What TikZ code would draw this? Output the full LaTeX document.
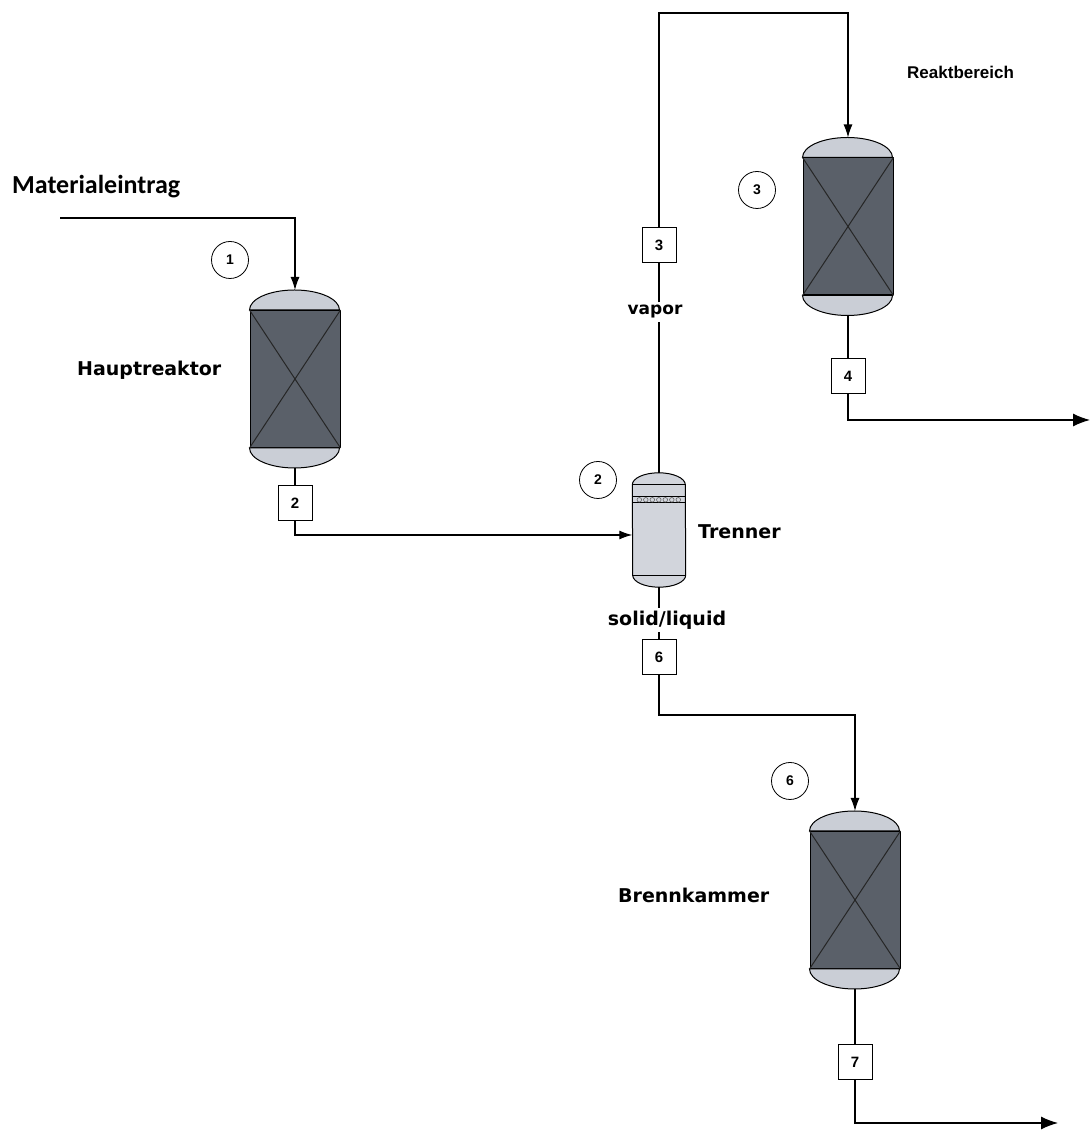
\documentclass[tikz,border=0pt]{standalone}
\usepackage{fontspec}
\setmainfont{DejaVu Sans}
\newfontfamily\calibri{Carlito}
\newfontfamily\arial{Liberation Sans}
\usetikzlibrary{arrows.meta}

\definecolor{bett}{HTML}{5A6069}
\definecolor{kappe}{HTML}{CACED6}
\definecolor{hell}{HTML}{D2D5DC}

\tikzstyle{gefaess}=[draw, fill=bett, line width=1pt, minimum width=90pt, minimum height=137pt, inner sep=0pt]
\tikzstyle{kappe}=[draw, fill=kappe, line width=1pt]
\tikzstyle{strom}=[draw, fill=white, line width=1pt, minimum width=34pt, minimum height=35pt, inner sep=0pt, font=\arial\bfseries\fontsize{15}{17}\selectfont]
\tikzstyle{kreis}=[draw, circle, line width=0.8pt, minimum size=37pt, inner sep=0pt, font=\arial\bfseries\fontsize{14}{16}\selectfont]
\tikzstyle{titel}=[anchor=west, inner sep=0pt, font=\bfseries\fontsize{19}{22}\selectfont]
\tikzstyle{pfeil}=[line width=1.2pt, -{Latex[length=13pt,width=9pt]}]
\tikzstyle{pfeilgross}=[line width=1.2pt, -{Latex[length=17pt,width=13pt]}]
\tikzstyle{leitung}=[line width=1.2pt]

% Reaktor mit Kappen und Schuettung: Name, Mitte
\newcommand{\reaktor}[2]{%
  \node[gefaess] (#1) at #2 {};
  \draw[kappe] (#1.north west) arc[start angle=180, end angle=0, x radius=45pt, y radius=20pt] -- cycle;
  \draw[kappe] (#1.south west) arc[start angle=180, end angle=360, x radius=45pt, y radius=20pt] -- cycle;
  \draw[line width=1pt, black!85] (#1.north west) -- (#1.south east) (#1.south west) -- (#1.north east);
  \coordinate (#1-ein) at ([yshift=20pt]#1.north);
  \coordinate (#1-aus) at ([yshift=-20pt]#1.south);
}

\begin{document}
\begin{tikzpicture}[x=1pt, y=1pt]
  \useasboundingbox (0,0) rectangle (1090,1130);

  % Apparate
  \reaktor{r1}{(295,751)}
  \reaktor{r3}{(848,903.5)}
  \reaktor{r6}{(855,230)}

  \node[minimum width=53pt, minimum height=114pt, inner sep=0pt] (tr) at (659,600) {};
  \draw[fill=hell, line width=1pt] ([yshift=-12pt]tr.north west) arc[start angle=180, end angle=0, x radius=26.5pt, y radius=12pt]
    -- ([yshift=12pt]tr.south east) arc[start angle=0, end angle=-180, x radius=26.5pt, y radius=12pt] -- cycle;
  \draw[line width=1pt] ([yshift=-12pt]tr.north west) -- ([yshift=-12pt]tr.north east)
    ([yshift=-24pt]tr.north west) -- ([yshift=-24pt]tr.north east)
    ([yshift=-30pt]tr.north west) -- ([yshift=-30pt]tr.north east)
    ([yshift=12pt]tr.south west) -- ([yshift=12pt]tr.south east);
  \foreach \i in {0,...,6}
    \draw[line width=0.6pt, gray!80!black] ([xshift=7pt+\i*6.5pt, yshift=-27pt]tr.north west) circle (2.3pt);

  % Nummern
  \node[kreis] (k1) at (230,870) {1};
  \node[kreis] (k2) at (598,650) {2};
  \node[kreis] (k3) at (757,940) {3};
  \node[kreis] (k6) at (790,349) {6};

  % Beschriftung
  \node[titel, font=\calibri\bfseries\fontsize{26}{29}\selectfont] (mat) at (12,943) {Materialeintrag};
  \node[titel] (haupt) at (77,760) {Hauptreaktor};
  \node[titel, font=\arial\bfseries\fontsize{17}{20}\selectfont] (reakt) at (907,1058) {Reaktbereich};
  \node[titel] (trenn) at (698,598) {Trenner};
  \node[titel] (brenn) at (618,235) {Brennkammer};
  \node[inner sep=3pt, font=\bfseries\fontsize{17}{20}\selectfont] (vap) at (655,818) {vapor};
  \node[inner sep=3pt, font=\bfseries\fontsize{19}{22}\selectfont] (sl) at (667,510) {solid/liquid};

  % Stroeme
  \node[strom] (s2) at (295,626.5) {2};
  \node[strom] (s3) at (659,885) {3};
  \node[strom] (s4) at (848,754) {4};
  \node[strom] (s6) at (659,473) {6};
  \node[strom] (s7) at (855,67.5) {7};

  \coordinate (ein) at (60,912);
  \coordinate (tr-ein) at ([yshift=-5pt]tr.west);
  \coordinate (knick3) at (659,1117);
  \coordinate (knick6) at (659,415);
  \coordinate (aus4) at (1090,710);
  \coordinate (aus7) at (1058,7);

  \draw[pfeil] (ein) -| (r1-ein);
  \draw[leitung] (r1-aus) -- (s2.north);
  \draw[pfeil] (s2.south) |- (tr-ein);
  \draw[leitung] (tr.north) -- (tr.north |- vap.south);
  \draw[leitung] (s3.south |- vap.north) -- (s3.south);
  \draw[pfeil] (s3.north) -- (knick3) -| (r3-ein);
  \draw[leitung] (r3-aus) -- (s4.north);
  \draw[pfeilgross] (s4.south) |- (aus4);
  \draw[leitung] (tr.south) -- (tr.south |- sl.north);
  \draw[leitung] (s6.north |- sl.south) -- (s6.north);
  \draw[pfeil] (s6.south) -- (knick6) -| (r6-ein);
  \draw[leitung] (r6-aus) -- (s7.north);
  \draw[pfeilgross] (s7.south) |- (aus7);
\end{tikzpicture}
\end{document}
